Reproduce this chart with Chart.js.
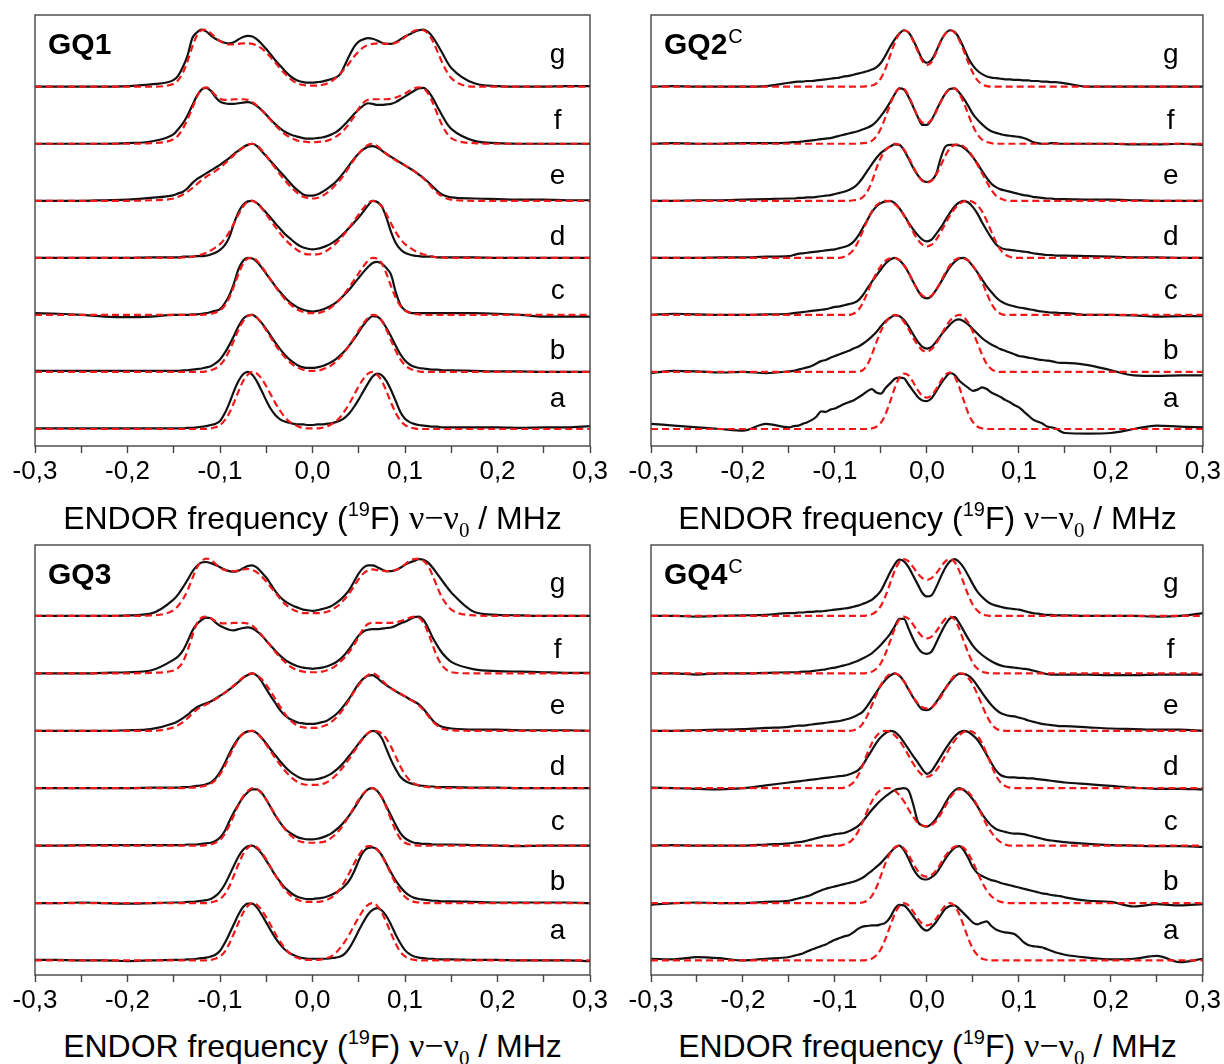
<!DOCTYPE html>
<html>
<head>
<meta charset="utf-8">
<script src="https://cdn.jsdelivr.net/npm/chart.js@4.4.1/dist/chart.umd.min.js"></script>
<style>
  body { margin: 0; background: #fff; width: 1224px; height: 1064px; position: relative; overflow: hidden;
         font-family: Arial, "Liberation Sans", sans-serif; }
  canvas { position: absolute; }
  .xtitle { position: absolute; text-align: center; font-size: 32px; line-height: 32px; color: #000; white-space: nowrap; }
  .xtitle .nu { font-family: "Liberation Serif", "Times New Roman", serif; font-size: 34px; }
  .xtitle sup { font-size: 20px; position: relative; top: -13px; vertical-align: baseline; }
  .xtitle sub { font-size: 21px; position: relative; top: 8px; vertical-align: baseline; }
</style>
</head>
<body>
<canvas id="gq1" width="612" height="492" style="left:0;top:0"></canvas>
<canvas id="gq2" width="612" height="492" style="left:612px;top:0"></canvas>
<canvas id="gq3" width="612" height="492" style="left:0;top:530px"></canvas>
<canvas id="gq4" width="612" height="492" style="left:612px;top:530px"></canvas>

<div class="xtitle" style="left:35px;top:502px;width:555px">ENDOR frequency (<sup>19</sup>F) <span class="nu">ν−ν<sub>0</sub></span> / MHz</div>
<div class="xtitle" style="left:651px;top:502px;width:553px">ENDOR frequency (<sup>19</sup>F) <span class="nu">ν−ν<sub>0</sub></span> / MHz</div>
<div class="xtitle" style="left:35px;top:1030px;width:555px">ENDOR frequency (<sup>19</sup>F) <span class="nu">ν−ν<sub>0</sub></span> / MHz</div>
<div class="xtitle" style="left:651px;top:1030px;width:553px">ENDOR frequency (<sup>19</sup>F) <span class="nu">ν−ν<sub>0</sub></span> / MHz</div>

<script>
// frequency grid (MHz), shared by every spectrum
const GRID = [
  -0.3, -0.275, -0.25, -0.225, -0.2, -0.175,
  -0.15, -0.145, -0.14, -0.135, -0.13, -0.125, -0.12, -0.115, -0.11, -0.105,
  -0.1, -0.095, -0.09, -0.085, -0.08, -0.075, -0.07, -0.065, -0.06, -0.055,
  -0.05, -0.045, -0.04, -0.035, -0.03, -0.025, -0.02, -0.015, -0.01, -0.005,
  0, 0.005, 0.01, 0.015, 0.02, 0.025, 0.03, 0.035, 0.04, 0.045, 0.05,
  0.055, 0.06, 0.065, 0.07, 0.075, 0.08, 0.085, 0.09, 0.095, 0.1,
  0.105, 0.11, 0.115, 0.12, 0.125, 0.13, 0.135, 0.14, 0.145, 0.15,
  0.175, 0.2, 0.225, 0.25, 0.275, 0.3
];
const LETTERS = ["a", "b", "c", "d", "e", "f", "g"];
const TICK_VALUES = [-0.3, -0.2, -0.1, 0, 0.1, 0.2, 0.3];

// ===============================
// GQ1
// ===============================
const gq1_g_exp = [
  0, 0, 0, 0, 0.01, 0.04,
  0.12, 0.2, 0.35, 0.55, 0.85, 0.95, 1.0, 0.97, 0.9, 0.84,
  0.8, 0.77, 0.76, 0.78, 0.83, 0.87, 0.89, 0.88, 0.83, 0.75,
  0.66, 0.56, 0.46, 0.37, 0.28, 0.2, 0.14, 0.1, 0.08, 0.07,
  0.07, 0.08, 0.09, 0.11, 0.13, 0.16, 0.22, 0.38, 0.55, 0.7, 0.79,
  0.83, 0.85, 0.84, 0.81, 0.77, 0.75, 0.75, 0.78, 0.83, 0.88,
  0.92, 0.96, 0.99, 1.0, 0.96, 0.87, 0.74, 0.6, 0.45, 0.33,
  0.06, 0.01, 0, 0, 0.01, 0.01
];
const gq1_g_sim = [
  0, 0, 0, 0, 0, 0,
  0.05, 0.12, 0.25, 0.45, 0.7, 0.9, 0.99, 1.0, 0.94, 0.86,
  0.8, 0.76, 0.74, 0.74, 0.75, 0.76, 0.76, 0.75, 0.72, 0.67,
  0.6, 0.51, 0.42, 0.32, 0.23, 0.15, 0.09, 0.05, 0.03, 0.02,
  0.02, 0.02, 0.03, 0.05, 0.09, 0.15, 0.23, 0.32, 0.42, 0.53, 0.62,
  0.69, 0.73, 0.75, 0.76, 0.76, 0.75, 0.75, 0.77, 0.81, 0.87,
  0.93, 0.98, 1.0, 0.99, 0.93, 0.8, 0.62, 0.43, 0.27, 0.15,
  0, 0, 0, 0, 0, 0
];
const gq1_f_exp = [
  0, 0, 0, 0, 0.01, 0.04,
  0.17, 0.26, 0.36, 0.5, 0.67, 0.84, 0.95, 0.98, 0.93, 0.82,
  0.74, 0.71, 0.7, 0.7, 0.71, 0.72, 0.73, 0.71, 0.66, 0.59,
  0.51, 0.42, 0.34, 0.27, 0.21, 0.17, 0.14, 0.12, 0.1, 0.09,
  0.09, 0.1, 0.11, 0.13, 0.16, 0.2, 0.26, 0.34, 0.43, 0.52, 0.6,
  0.67, 0.71, 0.7, 0.68, 0.68, 0.69, 0.7, 0.73, 0.78, 0.83,
  0.88, 0.93, 0.97, 0.98, 0.92, 0.8, 0.65, 0.5, 0.36, 0.26,
  0.05, 0.01, 0, 0, 0, 0
];
const gq1_f_sim = [
  0, 0, 0, 0, 0, 0.01,
  0.08, 0.15, 0.27, 0.43, 0.62, 0.82, 0.95, 0.99, 0.94, 0.85,
  0.79, 0.77, 0.77, 0.78, 0.78, 0.78, 0.77, 0.73, 0.67, 0.59,
  0.5, 0.41, 0.32, 0.24, 0.17, 0.12, 0.08, 0.05, 0.04, 0.03,
  0.03, 0.03, 0.04, 0.05, 0.08, 0.12, 0.18, 0.26, 0.36, 0.48, 0.62,
  0.72, 0.77, 0.78, 0.78, 0.78, 0.78, 0.79, 0.81, 0.84, 0.88,
  0.93, 0.97, 0.99, 0.97, 0.88, 0.72, 0.52, 0.33, 0.19, 0.1,
  0.01, 0, 0, 0, 0, 0
];
const gq1_e_exp = [
  0, 0, 0, 0.01, 0.02, 0.05,
  0.1, 0.13, 0.16, 0.22, 0.31, 0.38, 0.43, 0.48, 0.53, 0.58,
  0.63, 0.69, 0.75, 0.82, 0.88, 0.94, 0.98, 1.0, 0.96, 0.87,
  0.78, 0.69, 0.6, 0.51, 0.42, 0.33, 0.24, 0.17, 0.11, 0.09,
  0.09, 0.11, 0.15, 0.2, 0.26, 0.33, 0.42, 0.52, 0.63, 0.74, 0.83,
  0.9, 0.95, 0.96, 0.93, 0.88, 0.82, 0.77, 0.72, 0.67, 0.62,
  0.57, 0.52, 0.46, 0.4, 0.33, 0.25, 0.17, 0.11, 0.08, 0.06,
  0.04, 0.03, 0.02, 0.02, 0.01, 0.01
];
const gq1_e_sim = [
  0, 0, 0, 0, 0, 0.01,
  0.04, 0.07, 0.11, 0.16, 0.22, 0.29, 0.36, 0.42, 0.47, 0.52,
  0.58, 0.65, 0.72, 0.8, 0.87, 0.93, 0.98, 1.0, 0.97, 0.89,
  0.79, 0.68, 0.57, 0.46, 0.36, 0.27, 0.19, 0.12, 0.07, 0.05,
  0.04, 0.05, 0.08, 0.13, 0.2, 0.28, 0.37, 0.48, 0.6, 0.72, 0.83,
  0.92, 0.98, 1.0, 0.96, 0.89, 0.82, 0.76, 0.71, 0.66, 0.62,
  0.57, 0.52, 0.46, 0.39, 0.31, 0.22, 0.14, 0.08, 0.04, 0.02,
  0, 0, 0, 0, 0, 0
];
const gq1_d_exp = [
  0, 0, 0, 0, 0, 0.01,
  0.01, 0.01, 0.02, 0.02, 0.02, 0.03, 0.03, 0.04, 0.06, 0.09,
  0.14, 0.22, 0.36, 0.6, 0.8, 0.93, 0.99, 1.0, 0.96, 0.88,
  0.79, 0.7, 0.6, 0.51, 0.42, 0.35, 0.28, 0.22, 0.18, 0.16,
  0.15, 0.16, 0.18, 0.21, 0.25, 0.3, 0.37, 0.45, 0.53, 0.62, 0.71,
  0.81, 0.92, 1.0, 0.98, 0.9, 0.7, 0.45, 0.26, 0.15, 0.09,
  0.06, 0.04, 0.03, 0.02, 0.02, 0.02, 0.01, 0.01, 0.01, 0.01,
  0.01, 0, 0, 0, 0, 0
];
const gq1_d_sim = [
  0, 0, 0, 0, 0, 0,
  0, 0, 0.01, 0.01, 0.02, 0.04, 0.06, 0.09, 0.13, 0.18,
  0.24, 0.33, 0.45, 0.6, 0.76, 0.9, 0.98, 1.0, 0.96, 0.87,
  0.76, 0.65, 0.54, 0.43, 0.33, 0.25, 0.18, 0.12, 0.08, 0.06,
  0.06, 0.06, 0.08, 0.12, 0.18, 0.25, 0.33, 0.43, 0.54, 0.65, 0.76,
  0.87, 0.96, 1.0, 0.98, 0.9, 0.76, 0.6, 0.45, 0.33, 0.24,
  0.18, 0.13, 0.09, 0.06, 0.04, 0.02, 0.01, 0.01, 0, 0,
  0, 0, 0, 0, 0, 0
];
const gq1_c_exp = [
  0.03, 0.02, 0, -0.03, -0.04, -0.03,
  0, 0, 0, 0, 0.01, 0.01, 0.02, 0.03, 0.05, 0.07,
  0.1, 0.2, 0.34, 0.55, 0.8, 0.95, 1.0, 0.99, 0.93, 0.83,
  0.72, 0.61, 0.5, 0.4, 0.31, 0.23, 0.17, 0.12, 0.09, 0.07,
  0.06, 0.07, 0.09, 0.12, 0.16, 0.21, 0.28, 0.36, 0.45, 0.55, 0.65,
  0.75, 0.84, 0.91, 0.93, 0.9, 0.82, 0.7, 0.4, 0.18, 0.08,
  0.04, 0.03, 0.03, 0.03, 0.03, 0.03, 0.03, 0.03, 0.03, 0.03,
  0.03, 0.02, 0, -0.03, -0.03, -0.03
];
const gq1_c_sim = [
  0, 0, 0, 0, 0, 0,
  0, 0, 0, 0, 0, 0, 0, 0.01, 0.02, 0.04,
  0.08, 0.16, 0.3, 0.5, 0.72, 0.9, 0.99, 1.0, 0.95, 0.85,
  0.73, 0.61, 0.49, 0.38, 0.28, 0.2, 0.13, 0.08, 0.05, 0.03,
  0.03, 0.03, 0.05, 0.08, 0.13, 0.2, 0.28, 0.38, 0.49, 0.61, 0.73,
  0.85, 0.95, 1.0, 0.99, 0.9, 0.72, 0.5, 0.3, 0.16, 0.08,
  0.04, 0.02, 0.01, 0, 0, 0, 0, 0, 0, 0,
  0, 0, 0, 0, 0, 0
];
const gq1_b_exp = [
  0.02, 0.02, 0.02, 0.02, 0.02, 0.02,
  0.02, 0.02, 0.03, 0.03, 0.04, 0.05, 0.06, 0.08, 0.1, 0.15,
  0.22, 0.33, 0.47, 0.63, 0.8, 0.93, 0.99, 1.0, 0.95, 0.86,
  0.75, 0.63, 0.51, 0.4, 0.3, 0.22, 0.16, 0.11, 0.08, 0.07,
  0.07, 0.08, 0.1, 0.13, 0.17, 0.22, 0.29, 0.37, 0.47, 0.58, 0.7,
  0.82, 0.92, 0.98, 0.97, 0.9, 0.77, 0.62, 0.46, 0.31, 0.2,
  0.13, 0.09, 0.07, 0.06, 0.05, 0.04, 0.04, 0.03, 0.03, 0.03,
  0.02, 0.01, 0.01, 0, 0, 0
];
const gq1_b_sim = [
  0, 0, 0, 0, 0, 0,
  0, 0, 0, 0, 0, 0, 0, 0.01, 0.03, 0.06,
  0.12, 0.22, 0.37, 0.55, 0.74, 0.89, 0.98, 1.0, 0.95, 0.85,
  0.73, 0.6, 0.47, 0.36, 0.26, 0.18, 0.11, 0.07, 0.04, 0.02,
  0.02, 0.02, 0.04, 0.07, 0.11, 0.18, 0.26, 0.36, 0.47, 0.6, 0.73,
  0.85, 0.95, 1.0, 0.98, 0.89, 0.74, 0.55, 0.37, 0.22, 0.12,
  0.06, 0.03, 0.01, 0, 0, 0, 0, 0, 0, 0,
  0, 0, 0, 0, 0, 0
];
const gq1_a_exp = [
  0.01, 0.01, 0.01, 0.01, 0.01, 0.01,
  0.01, 0.01, 0.01, 0.02, 0.02, 0.03, 0.04, 0.05, 0.07, 0.09,
  0.14, 0.27, 0.45, 0.66, 0.84, 0.96, 1.0, 0.95, 0.83, 0.67,
  0.5, 0.35, 0.24, 0.17, 0.13, 0.11, 0.09, 0.08, 0.08, 0.07,
  0.07, 0.08, 0.08, 0.09, 0.1, 0.12, 0.15, 0.2, 0.28, 0.39, 0.52,
  0.66, 0.8, 0.92, 0.97, 0.94, 0.84, 0.68, 0.49, 0.3, 0.18,
  0.12, 0.09, 0.07, 0.06, 0.05, 0.04, 0.04, 0.03, 0.03, 0.03,
  0.03, 0.03, 0.02, 0.03, 0.03, 0.05
];
const gq1_a_sim = [
  0, 0, 0, 0, 0, 0,
  0, 0, 0, 0, 0, 0, 0, 0, 0.01, 0.03,
  0.07, 0.15, 0.28, 0.46, 0.66, 0.84, 0.95, 1.0, 0.97, 0.88,
  0.75, 0.6, 0.45, 0.32, 0.21, 0.13, 0.08, 0.04, 0.02, 0.01,
  0.01, 0.01, 0.02, 0.04, 0.08, 0.13, 0.21, 0.32, 0.45, 0.6, 0.75,
  0.88, 0.97, 1.0, 0.95, 0.84, 0.66, 0.46, 0.28, 0.15, 0.07,
  0.03, 0.01, 0, 0, 0, 0, 0, 0, 0, 0,
  0, 0, 0, 0, 0, 0
];

// ===============================
// GQ2
// ===============================
const gq2_g_exp = [
  0, 0.01, 0, 0, 0, 0.01,
  0.07, 0.08, 0.09, 0.09, 0.1, 0.1, 0.11, 0.12, 0.13, 0.14,
  0.15, 0.16, 0.18, 0.19, 0.21, 0.23, 0.25, 0.27, 0.3, 0.34,
  0.42, 0.55, 0.7, 0.83, 0.93, 0.99, 0.95, 0.82, 0.65, 0.48,
  0.42, 0.47, 0.62, 0.8, 0.93, 0.99, 0.96, 0.85, 0.68, 0.5, 0.37,
  0.28, 0.22, 0.18, 0.16, 0.15, 0.14, 0.13, 0.13, 0.12, 0.12,
  0.11, 0.11, 0.1, 0.1, 0.09, 0.09, 0.08, 0.08, 0.07, 0.06,
  0, 0, 0, 0, 0, 0
];
const gq2_g_sim = [
  0, 0, 0, 0, 0, 0,
  0, 0, 0, 0, 0, 0, 0, 0, 0, 0,
  0, 0, 0, 0, 0, 0, 0, 0.01, 0.02, 0.06,
  0.15, 0.32, 0.55, 0.77, 0.93, 0.99, 0.95, 0.8, 0.62, 0.45,
  0.38, 0.43, 0.6, 0.79, 0.93, 0.99, 0.95, 0.82, 0.63, 0.42, 0.24,
  0.11, 0.04, 0.01, 0, 0, 0, 0, 0, 0, 0,
  0, 0, 0, 0, 0, 0, 0, 0, 0, 0,
  0, 0, 0, 0, 0, 0
];
const gq2_f_exp = [
  0, 0.01, 0, 0, 0.01, 0.01,
  0.02, 0.03, 0.03, 0.04, 0.05, 0.06, 0.07, 0.08, 0.09, 0.1,
  0.12, 0.14, 0.16, 0.18, 0.2, 0.22, 0.25, 0.28, 0.32, 0.39,
  0.49, 0.6, 0.73, 0.87, 0.97, 0.95, 0.82, 0.65, 0.47, 0.33,
  0.33, 0.42, 0.58, 0.74, 0.88, 0.96, 0.97, 0.9, 0.79, 0.66, 0.52,
  0.42, 0.34, 0.27, 0.22, 0.19, 0.17, 0.15, 0.14, 0.13, 0.12,
  0.1, 0.07, 0.03, 0.01, 0, 0, 0.01, 0.01, 0, 0,
  0, 0, -0.01, -0.01, 0, -0.02
];
const gq2_f_sim = [
  0, 0, 0, 0, 0, 0,
  0, 0, 0, 0, 0, 0, 0, 0, 0, 0,
  0, 0, 0, 0, 0, 0, 0.01, 0.02, 0.05, 0.13,
  0.27, 0.47, 0.69, 0.87, 0.97, 0.96, 0.84, 0.66, 0.48, 0.37,
  0.36, 0.42, 0.56, 0.73, 0.88, 0.96, 0.97, 0.88, 0.72, 0.51, 0.31,
  0.16, 0.07, 0.03, 0.01, 0, 0, 0, 0, 0, 0,
  0, 0, 0, 0, 0, 0, 0, 0, 0, 0,
  0, 0, 0, 0, 0, 0
];
const gq2_e_exp = [
  0, 0, 0.01, 0.01, 0.02, 0.03,
  0.04, 0.04, 0.05, 0.05, 0.06, 0.06, 0.07, 0.08, 0.09, 0.1,
  0.12, 0.14, 0.16, 0.19, 0.23, 0.3, 0.4, 0.52, 0.64, 0.75,
  0.84, 0.9, 0.95, 0.99, 0.98, 0.89, 0.74, 0.58, 0.45, 0.36,
  0.33, 0.36, 0.47, 0.75, 0.95, 0.98, 0.98, 0.97, 0.93, 0.86, 0.76,
  0.65, 0.52, 0.4, 0.3, 0.24, 0.2, 0.18, 0.16, 0.14, 0.12,
  0.1, 0.09, 0.07, 0.06, 0.05, 0.04, 0.04, 0.03, 0.03, 0.03,
  0.02, 0.02, 0.01, 0, 0, 0
];
const gq2_e_sim = [
  0, 0, 0, 0, 0, 0,
  0, 0, 0, 0, 0, 0, 0, 0, 0, 0,
  0, 0, 0, 0, 0.01, 0.02, 0.06, 0.16, 0.33, 0.57,
  0.76, 0.89, 0.96, 1.0, 0.98, 0.9, 0.76, 0.6, 0.45, 0.35,
  0.32, 0.35, 0.46, 0.62, 0.79, 0.92, 0.98, 0.99, 0.95, 0.88, 0.77,
  0.63, 0.48, 0.33, 0.19, 0.09, 0.04, 0.01, 0, 0, 0,
  0, 0, 0, 0, 0, 0, 0, 0, 0, 0,
  0, 0, 0, 0, 0, 0
];
const gq2_d_exp = [
  0, 0, 0, 0.01, 0.01, 0.02,
  0.03, 0.05, 0.07, 0.08, 0.09, 0.1, 0.11, 0.12, 0.13, 0.14,
  0.15, 0.17, 0.19, 0.22, 0.28, 0.38, 0.52, 0.66, 0.8, 0.9,
  0.96, 0.99, 1.0, 0.96, 0.87, 0.75, 0.62, 0.5, 0.4, 0.32,
  0.29, 0.32, 0.42, 0.53, 0.66, 0.79, 0.9, 0.97, 1.0, 0.97, 0.89,
  0.77, 0.62, 0.48, 0.35, 0.24, 0.18, 0.15, 0.14, 0.13, 0.12,
  0.11, 0.1, 0.08, 0.07, 0.06, 0.05, 0.05, 0.04, 0.04, 0.04,
  0.03, 0.02, 0.01, 0.01, 0, 0
];
const gq2_d_sim = [
  0, 0, 0, 0, 0, 0,
  0, 0, 0, 0, 0, 0, 0, 0, 0, 0,
  0, 0, 0.02, 0.06, 0.14, 0.28, 0.46, 0.65, 0.81, 0.92,
  0.98, 1.0, 0.99, 0.94, 0.86, 0.74, 0.6, 0.45, 0.32, 0.23,
  0.2, 0.23, 0.32, 0.45, 0.6, 0.74, 0.86, 0.94, 0.99, 1.0, 0.98,
  0.92, 0.81, 0.65, 0.46, 0.28, 0.14, 0.06, 0.02, 0, 0,
  0, 0, 0, 0, 0, 0, 0, 0, 0, 0,
  0, 0, 0, 0, 0, 0
];
const gq2_c_exp = [
  0, 0.02, 0.01, 0, 0, 0.01,
  0.02, 0.03, 0.04, 0.05, 0.06, 0.07, 0.08, 0.09, 0.1, 0.12,
  0.14, 0.15, 0.17, 0.19, 0.21, 0.25, 0.34, 0.46, 0.58, 0.69,
  0.8, 0.9, 0.97, 1.0, 0.96, 0.87, 0.74, 0.58, 0.43, 0.32,
  0.29, 0.33, 0.44, 0.57, 0.71, 0.84, 0.93, 0.99, 1.0, 0.95, 0.85,
  0.74, 0.62, 0.5, 0.4, 0.31, 0.24, 0.2, 0.17, 0.15, 0.13,
  0.12, 0.1, 0.09, 0.07, 0.06, 0.05, 0.04, 0.04, 0.03, 0.03,
  0, 0, -0.01, -0.03, -0.02, -0.02
];
const gq2_c_sim = [
  0, 0, 0, 0, 0, 0,
  0, 0, 0, 0, 0, 0, 0, 0, 0, 0,
  0, 0, 0, 0, 0.02, 0.08, 0.2, 0.38, 0.57, 0.73,
  0.86, 0.95, 0.99, 1.0, 0.96, 0.87, 0.74, 0.58, 0.44, 0.34,
  0.31, 0.34, 0.44, 0.58, 0.74, 0.87, 0.96, 1.0, 0.99, 0.95, 0.86,
  0.73, 0.57, 0.38, 0.2, 0.08, 0.02, 0, 0, 0, 0,
  0, 0, 0, 0, 0, 0, 0, 0, 0, 0,
  0, 0, 0, 0, 0, 0
];
const gq2_b_exp = [
  -0.02, 0.02, 0.01, -0.01, 0, -0.02,
  0.01, 0.02, 0.04, 0.06, 0.08, 0.11, 0.15, 0.19, 0.21, 0.25,
  0.28, 0.31, 0.34, 0.37, 0.41, 0.44, 0.49, 0.55, 0.62, 0.7,
  0.8, 0.89, 0.95, 0.99, 0.98, 0.91, 0.8, 0.66, 0.53, 0.44,
  0.41, 0.44, 0.53, 0.64, 0.74, 0.83, 0.9, 0.92, 0.89, 0.83, 0.75,
  0.67, 0.59, 0.53, 0.48, 0.44, 0.4, 0.37, 0.34, 0.31, 0.28,
  0.27, 0.25, 0.24, 0.22, 0.21, 0.2, 0.19, 0.17, 0.16, 0.16,
  0.12, 0.03, -0.06, -0.07, -0.06, -0.06
];
const gq2_b_sim = [
  0, 0, 0, 0, 0, 0,
  0, 0, 0, 0, 0, 0, 0, 0, 0, 0,
  0, 0, 0, 0, 0, 0.01, 0.03, 0.12, 0.3, 0.52,
  0.72, 0.87, 0.96, 1.0, 0.97, 0.88, 0.75, 0.6, 0.47, 0.38,
  0.36, 0.4, 0.5, 0.64, 0.78, 0.9, 0.97, 1.0, 0.96, 0.86, 0.7,
  0.5, 0.3, 0.14, 0.05, 0.01, 0, 0, 0, 0, 0,
  0, 0, 0, 0, 0, 0, 0, 0, 0, 0,
  0, 0, 0, 0, 0, 0
];
const gq2_a_exp = [
  0.09, 0.06, 0.03, 0, -0.03, 0.09,
  0.03, 0.05, 0.06, 0.09, 0.12, 0.16, 0.22, 0.31, 0.3, 0.34,
  0.36, 0.4, 0.44, 0.47, 0.5, 0.55, 0.6, 0.66, 0.7, 0.64,
  0.62, 0.72, 0.8, 0.88, 0.9, 0.89, 0.78, 0.67, 0.56, 0.5,
  0.49, 0.54, 0.66, 0.79, 0.9, 0.98, 0.95, 0.85, 0.78, 0.72, 0.67,
  0.69, 0.73, 0.7, 0.64, 0.6, 0.56, 0.51, 0.47, 0.42, 0.38,
  0.31, 0.24, 0.17, 0.13, 0.1, 0.05, 0.03, 0.01, -0.04, -0.07,
  -0.08, -0.07, 0, 0.06, 0.04, 0.03
];
const gq2_a_sim = [
  0, 0, 0, 0, 0, 0,
  0, 0, 0, 0, 0, 0, 0, 0, 0, 0,
  0, 0, 0, 0, 0, 0, 0, 0, 0.01, 0.04,
  0.11, 0.26, 0.48, 0.72, 0.9, 0.97, 0.94, 0.82, 0.68, 0.58,
  0.55, 0.59, 0.7, 0.84, 0.95, 0.99, 0.92, 0.74, 0.5, 0.27, 0.12,
  0.04, 0.01, 0, 0, 0, 0, 0, 0, 0, 0,
  0, 0, 0, 0, 0, 0, 0, 0, 0, 0,
  0, 0, 0, 0, 0, 0
];

// ===============================
// GQ3
// ===============================
const gq3_g_exp = [
  0, 0, 0, 0, 0.01, 0.04,
  0.29, 0.38, 0.5, 0.63, 0.77, 0.87, 0.93, 0.94, 0.92, 0.89,
  0.85, 0.81, 0.78, 0.77, 0.79, 0.83, 0.87, 0.88, 0.84, 0.76,
  0.67, 0.55, 0.43, 0.33, 0.26, 0.21, 0.17, 0.14, 0.11, 0.1,
  0.09, 0.1, 0.12, 0.14, 0.17, 0.22, 0.28, 0.36, 0.46, 0.6, 0.74,
  0.84, 0.88, 0.88, 0.85, 0.81, 0.78, 0.78, 0.8, 0.84, 0.89,
  0.93, 0.96, 0.99, 0.98, 0.93, 0.84, 0.73, 0.62, 0.51, 0.41,
  0.07, 0.02, 0.01, 0, 0, 0
];
const gq3_g_sim = [
  0, 0, 0, 0, 0, 0.01,
  0.1, 0.18, 0.29, 0.45, 0.65, 0.84, 0.95, 1.0, 0.98, 0.91,
  0.84, 0.8, 0.78, 0.78, 0.79, 0.81, 0.82, 0.8, 0.76, 0.69,
  0.6, 0.5, 0.4, 0.3, 0.21, 0.15, 0.1, 0.07, 0.05, 0.05,
  0.05, 0.05, 0.05, 0.07, 0.1, 0.15, 0.21, 0.3, 0.4, 0.52, 0.64,
  0.74, 0.79, 0.81, 0.8, 0.79, 0.78, 0.78, 0.8, 0.84, 0.9,
  0.96, 0.99, 1.0, 0.96, 0.87, 0.7, 0.5, 0.32, 0.2, 0.11,
  0.01, 0, 0, 0, 0, 0
];
const gq3_f_exp = [
  0, 0, 0, 0.01, 0.02, 0.05,
  0.24, 0.3, 0.4, 0.56, 0.74, 0.86, 0.93, 0.97, 0.96, 0.89,
  0.83, 0.79, 0.76, 0.75, 0.77, 0.79, 0.8, 0.78, 0.73, 0.66,
  0.57, 0.48, 0.39, 0.31, 0.24, 0.19, 0.15, 0.12, 0.1, 0.09,
  0.08, 0.09, 0.1, 0.12, 0.15, 0.19, 0.25, 0.33, 0.43, 0.55, 0.66,
  0.73, 0.76, 0.77, 0.77, 0.78, 0.79, 0.8, 0.83, 0.87, 0.9,
  0.94, 0.98, 0.99, 0.93, 0.79, 0.62, 0.48, 0.36, 0.27, 0.2,
  0.07, 0.04, 0.03, 0.02, 0.01, 0.01
];
const gq3_f_sim = [
  0, 0, 0, 0, 0, 0.01,
  0.05, 0.1, 0.2, 0.4, 0.65, 0.87, 0.97, 0.99, 0.96, 0.91,
  0.88, 0.87, 0.87, 0.88, 0.88, 0.88, 0.87, 0.83, 0.76, 0.67,
  0.57, 0.47, 0.37, 0.28, 0.2, 0.13, 0.08, 0.05, 0.03, 0.02,
  0.02, 0.02, 0.03, 0.05, 0.08, 0.13, 0.2, 0.28, 0.38, 0.5, 0.64,
  0.78, 0.86, 0.88, 0.88, 0.88, 0.88, 0.88, 0.89, 0.91, 0.94,
  0.97, 0.99, 0.97, 0.88, 0.71, 0.49, 0.28, 0.14, 0.06, 0.02,
  0, 0, 0, 0, 0, 0
];
const gq3_e_exp = [
  0, 0, 0, 0, 0.01, 0.03,
  0.13, 0.17, 0.22, 0.28, 0.35, 0.41, 0.45, 0.48, 0.51, 0.56,
  0.61, 0.66, 0.72, 0.78, 0.85, 0.92, 0.97, 1.0, 0.96, 0.86,
  0.73, 0.6, 0.48, 0.36, 0.27, 0.21, 0.17, 0.14, 0.13, 0.12,
  0.12, 0.13, 0.15, 0.17, 0.22, 0.28, 0.36, 0.46, 0.57, 0.7, 0.82,
  0.91, 0.96, 0.97, 0.92, 0.85, 0.79, 0.74, 0.69, 0.64, 0.6,
  0.55, 0.51, 0.46, 0.38, 0.28, 0.18, 0.11, 0.07, 0.05, 0.04,
  0.02, 0.02, 0.01, 0.01, 0.01, 0
];
const gq3_e_sim = [
  0, 0, 0, 0, 0, 0,
  0.06, 0.1, 0.15, 0.22, 0.3, 0.37, 0.42, 0.46, 0.5, 0.55,
  0.6, 0.66, 0.72, 0.79, 0.86, 0.93, 0.98, 1.0, 0.97, 0.9,
  0.8, 0.68, 0.55, 0.42, 0.3, 0.2, 0.13, 0.08, 0.06, 0.05,
  0.05, 0.05, 0.07, 0.1, 0.15, 0.22, 0.31, 0.42, 0.55, 0.68, 0.8,
  0.9, 0.97, 1.0, 0.96, 0.88, 0.8, 0.74, 0.69, 0.65, 0.6,
  0.55, 0.5, 0.44, 0.36, 0.26, 0.16, 0.09, 0.04, 0.02, 0.01,
  0, 0, 0, 0, 0, 0
];
const gq3_d_exp = [
  0, 0, 0, 0, 0, 0.01,
  0.01, 0.01, 0.02, 0.02, 0.03, 0.04, 0.05, 0.07, 0.1, 0.17,
  0.28, 0.43, 0.6, 0.75, 0.87, 0.95, 0.99, 1.0, 0.96, 0.88,
  0.78, 0.67, 0.57, 0.47, 0.38, 0.3, 0.24, 0.19, 0.16, 0.15,
  0.15, 0.16, 0.18, 0.21, 0.25, 0.31, 0.38, 0.47, 0.57, 0.67, 0.78,
  0.88, 0.96, 1.0, 0.97, 0.87, 0.68, 0.49, 0.33, 0.2, 0.13,
  0.09, 0.07, 0.05, 0.04, 0.03, 0.03, 0.02, 0.02, 0.02, 0.02,
  0.01, 0.01, 0, 0, 0, 0
];
const gq3_d_sim = [
  0, 0, 0, 0, 0, 0,
  0, 0, 0, 0.01, 0.01, 0.02, 0.03, 0.05, 0.08, 0.14,
  0.24, 0.38, 0.55, 0.72, 0.86, 0.95, 0.99, 1.0, 0.96, 0.87,
  0.76, 0.64, 0.52, 0.41, 0.31, 0.22, 0.15, 0.1, 0.07, 0.06,
  0.06, 0.06, 0.07, 0.1, 0.15, 0.22, 0.31, 0.41, 0.52, 0.64, 0.76,
  0.87, 0.96, 1.0, 0.99, 0.95, 0.86, 0.72, 0.55, 0.38, 0.24,
  0.14, 0.08, 0.05, 0.03, 0.02, 0.01, 0.01, 0, 0, 0,
  0, 0, 0, 0, 0, 0
];
const gq3_c_exp = [
  0, 0, 0.01, 0.01, 0.01, 0.01,
  0.01, 0.01, 0.01, 0.02, 0.02, 0.02, 0.03, 0.04, 0.05, 0.08,
  0.14, 0.25, 0.42, 0.58, 0.72, 0.84, 0.93, 0.98, 0.98, 0.92,
  0.8, 0.66, 0.52, 0.4, 0.3, 0.23, 0.18, 0.14, 0.12, 0.11,
  0.11, 0.12, 0.14, 0.17, 0.21, 0.27, 0.34, 0.43, 0.53, 0.65, 0.78,
  0.9, 0.98, 1.0, 0.95, 0.84, 0.68, 0.52, 0.36, 0.22, 0.13,
  0.08, 0.05, 0.04, 0.03, 0.03, 0.02, 0.02, 0.02, 0.02, 0.02,
  0.01, 0, -0.01, 0, 0, 0
];
const gq3_c_sim = [
  0, 0, 0, 0, 0, 0,
  0, 0, 0, 0, 0, 0, 0, 0.01, 0.02, 0.05,
  0.1, 0.2, 0.35, 0.53, 0.71, 0.86, 0.95, 1.0, 0.98, 0.91,
  0.8, 0.67, 0.53, 0.4, 0.29, 0.2, 0.13, 0.08, 0.06, 0.05,
  0.05, 0.05, 0.06, 0.08, 0.13, 0.2, 0.29, 0.4, 0.53, 0.67, 0.8,
  0.91, 0.98, 1.0, 0.95, 0.84, 0.66, 0.45, 0.26, 0.12, 0.05,
  0.02, 0.01, 0, 0, 0, 0, 0, 0, 0, 0,
  0, 0, 0, 0, 0, 0
];
const gq3_b_exp = [
  0, 0, 0.01, 0, -0.01, 0,
  0.01, 0.01, 0.01, 0.02, 0.02, 0.03, 0.04, 0.05, 0.07, 0.12,
  0.2, 0.32, 0.48, 0.65, 0.81, 0.93, 0.99, 1.0, 0.95, 0.86,
  0.74, 0.61, 0.48, 0.37, 0.27, 0.2, 0.14, 0.1, 0.08, 0.07,
  0.07, 0.08, 0.09, 0.11, 0.14, 0.18, 0.23, 0.3, 0.4, 0.55, 0.74,
  0.89, 0.96, 0.97, 0.93, 0.83, 0.68, 0.53, 0.39, 0.28, 0.19,
  0.13, 0.09, 0.07, 0.06, 0.05, 0.04, 0.04, 0.03, 0.03, 0.03,
  0.02, 0.01, 0.01, 0.01, 0.01, 0
];
const gq3_b_sim = [
  0, 0, 0, 0, 0, 0,
  0, 0, 0, 0, 0, 0, 0, 0, 0.01, 0.03,
  0.07, 0.15, 0.29, 0.48, 0.68, 0.85, 0.96, 1.0, 0.97, 0.88,
  0.76, 0.62, 0.48, 0.35, 0.24, 0.15, 0.09, 0.05, 0.03, 0.02,
  0.02, 0.02, 0.03, 0.05, 0.09, 0.15, 0.25, 0.38, 0.53, 0.69, 0.83,
  0.94, 0.99, 0.99, 0.93, 0.82, 0.67, 0.5, 0.34, 0.2, 0.11,
  0.05, 0.02, 0.01, 0, 0, 0, 0, 0, 0, 0,
  0, 0, 0, 0, 0, 0
];
const gq3_a_exp = [
  0.01, 0.01, 0, 0, -0.01, 0,
  0.01, 0.01, 0.01, 0.02, 0.02, 0.03, 0.04, 0.05, 0.07, 0.1,
  0.17, 0.3, 0.46, 0.63, 0.8, 0.93, 0.99, 0.99, 0.92, 0.8,
  0.66, 0.52, 0.39, 0.28, 0.19, 0.13, 0.09, 0.06, 0.04, 0.03,
  0.03, 0.03, 0.03, 0.03, 0.04, 0.05, 0.07, 0.12, 0.22, 0.36, 0.52,
  0.67, 0.8, 0.88, 0.91, 0.87, 0.77, 0.62, 0.45, 0.3, 0.18,
  0.11, 0.07, 0.05, 0.04, 0.03, 0.03, 0.02, 0.02, 0.02, 0.02,
  0.01, 0.01, 0, 0, 0, -0.01
];
const gq3_a_sim = [
  0, 0, 0, 0, 0, 0,
  0, 0, 0, 0, 0, 0, 0, 0, 0.01, 0.03,
  0.07, 0.15, 0.29, 0.47, 0.66, 0.83, 0.95, 1.0, 0.97, 0.88,
  0.75, 0.61, 0.46, 0.33, 0.22, 0.13, 0.07, 0.04, 0.02, 0.01,
  0.01, 0.01, 0.02, 0.04, 0.07, 0.13, 0.22, 0.33, 0.46, 0.61, 0.75,
  0.88, 0.97, 1.0, 0.95, 0.83, 0.66, 0.47, 0.29, 0.15, 0.07,
  0.03, 0.01, 0, 0, 0, 0, 0, 0, 0, 0,
  0, 0, 0, 0, 0, 0
];

// ===============================
// GQ4
// ===============================
const gq4_g_exp = [
  0, 0, -0.01, 0, 0.01, 0.02,
  0.05, 0.05, 0.06, 0.06, 0.07, 0.07, 0.08, 0.08, 0.09, 0.1,
  0.11, 0.12, 0.13, 0.14, 0.16, 0.18, 0.21, 0.24, 0.28, 0.35,
  0.44, 0.6, 0.76, 0.9, 0.98, 0.95, 0.85, 0.7, 0.55, 0.4,
  0.34, 0.36, 0.5, 0.68, 0.84, 0.95, 0.99, 0.94, 0.84, 0.7, 0.55,
  0.42, 0.33, 0.26, 0.21, 0.18, 0.16, 0.14, 0.13, 0.12, 0.11,
  0.09, 0.07, 0.05, 0.04, 0.03, 0.02, 0.02, 0.01, 0.01, 0.01,
  0, 0, 0, -0.01, 0, 0.05
];
const gq4_g_sim = [
  0, 0, 0, 0, 0, 0,
  0, 0, 0, 0, 0, 0, 0, 0, 0, 0,
  0, 0, 0, 0, 0, 0, 0, 0.01, 0.03, 0.08,
  0.18, 0.35, 0.57, 0.79, 0.94, 0.99, 0.95, 0.85, 0.74, 0.66,
  0.63, 0.66, 0.74, 0.85, 0.95, 0.99, 0.94, 0.79, 0.57, 0.36, 0.19,
  0.09, 0.03, 0.01, 0, 0, 0, 0, 0, 0, 0,
  0, 0, 0, 0, 0, 0, 0, 0, 0, 0,
  0, 0, 0, 0, 0, 0
];
const gq4_f_exp = [
  0, 0, -0.02, 0, 0, 0.01,
  0.02, 0.02, 0.02, 0.03, 0.03, 0.04, 0.05, 0.06, 0.07, 0.09,
  0.1, 0.12, 0.14, 0.16, 0.19, 0.22, 0.26, 0.3, 0.35, 0.42,
  0.5, 0.59, 0.69, 0.82, 0.95, 0.95, 0.78, 0.6, 0.45, 0.36,
  0.34, 0.38, 0.53, 0.7, 0.85, 0.96, 0.98, 0.88, 0.74, 0.6, 0.48,
  0.39, 0.32, 0.26, 0.21, 0.17, 0.14, 0.12, 0.11, 0.1, 0.09,
  0.08, 0.07, 0.05, 0.03, 0.01, -0.01, -0.02, -0.02, -0.02, -0.02,
  -0.02, -0.03, -0.03, -0.02, -0.02, -0.02
];
const gq4_f_sim = [
  0, 0, 0, 0, 0, 0,
  0, 0, 0, 0, 0, 0, 0, 0, 0, 0,
  0, 0, 0, 0, 0, 0, 0, 0.01, 0.03, 0.08,
  0.18, 0.35, 0.56, 0.78, 0.94, 0.99, 0.95, 0.85, 0.73, 0.64,
  0.61, 0.64, 0.73, 0.85, 0.95, 0.99, 0.94, 0.78, 0.56, 0.35, 0.18,
  0.08, 0.03, 0.01, 0, 0, 0, 0, 0, 0, 0,
  0, 0, 0, 0, 0, 0, 0, 0, 0, 0,
  0, 0, 0, 0, 0, 0
];
const gq4_e_exp = [
  0, 0, 0.01, 0.02, 0.03, 0.05,
  0.07, 0.08, 0.09, 0.09, 0.1, 0.11, 0.12, 0.13, 0.14, 0.15,
  0.16, 0.17, 0.19, 0.21, 0.24, 0.28, 0.33, 0.43, 0.55, 0.67,
  0.79, 0.89, 0.96, 1.0, 0.96, 0.86, 0.72, 0.58, 0.46, 0.37,
  0.36, 0.4, 0.5, 0.62, 0.74, 0.85, 0.94, 0.99, 0.99, 0.96, 0.89,
  0.78, 0.66, 0.55, 0.45, 0.37, 0.31, 0.28, 0.26, 0.25, 0.23,
  0.21, 0.18, 0.16, 0.14, 0.12, 0.11, 0.1, 0.09, 0.08, 0.08,
  0.06, 0.04, 0.03, 0.02, 0.02, 0
];
const gq4_e_sim = [
  0, 0, 0, 0, 0, 0,
  0, 0, 0, 0, 0, 0, 0, 0, 0, 0,
  0, 0, 0, 0, 0.01, 0.04, 0.12, 0.26, 0.44, 0.63,
  0.8, 0.92, 0.99, 1.0, 0.96, 0.86, 0.73, 0.59, 0.48, 0.41,
  0.39, 0.41, 0.48, 0.59, 0.73, 0.86, 0.96, 1.0, 0.99, 0.92, 0.8,
  0.63, 0.44, 0.26, 0.12, 0.04, 0.01, 0, 0, 0, 0,
  0, 0, 0, 0, 0, 0, 0, 0, 0, 0,
  0, 0, 0, 0, 0, 0
];
const gq4_d_exp = [
  0.01, 0, -0.01, -0.02, 0, 0.05,
  0.1, 0.11, 0.12, 0.13, 0.14, 0.15, 0.16, 0.17, 0.18, 0.19,
  0.2, 0.21, 0.22, 0.24, 0.27, 0.31, 0.4, 0.53, 0.66, 0.79,
  0.89, 0.96, 1.0, 0.98, 0.91, 0.8, 0.68, 0.56, 0.45, 0.33,
  0.25, 0.3, 0.42, 0.55, 0.68, 0.8, 0.9, 0.97, 1.0, 0.98, 0.92,
  0.84, 0.72, 0.58, 0.44, 0.31, 0.23, 0.2, 0.19, 0.19, 0.18,
  0.18, 0.17, 0.17, 0.16, 0.15, 0.14, 0.13, 0.12, 0.11, 0.1,
  0.07, 0.04, 0.01, -0.01, -0.01, -0.02
];
const gq4_d_sim = [
  0, 0, 0, 0, 0, 0,
  0, 0, 0, 0, 0, 0, 0, 0, 0, 0,
  0, 0, 0.01, 0.04, 0.1, 0.22, 0.4, 0.6, 0.78, 0.91,
  0.98, 1.0, 0.98, 0.92, 0.83, 0.71, 0.57, 0.43, 0.31, 0.23,
  0.2, 0.23, 0.31, 0.43, 0.57, 0.71, 0.83, 0.92, 0.98, 1.0, 0.98,
  0.91, 0.78, 0.6, 0.4, 0.22, 0.1, 0.04, 0.01, 0, 0,
  0, 0, 0, 0, 0, 0, 0, 0, 0, 0,
  0, 0, 0, 0, 0, 0
];
const gq4_c_exp = [
  0, 0.01, 0, 0, 0, 0.02,
  0.04, 0.05, 0.06, 0.07, 0.09, 0.11, 0.13, 0.15, 0.17, 0.18,
  0.2, 0.21, 0.22, 0.25, 0.29, 0.34, 0.42, 0.52, 0.62, 0.71,
  0.79, 0.86, 0.92, 0.97, 0.99, 1.0, 0.96, 0.72, 0.42, 0.35,
  0.33, 0.38, 0.47, 0.6, 0.74, 0.87, 0.96, 1.0, 0.97, 0.9, 0.8,
  0.68, 0.55, 0.44, 0.35, 0.29, 0.26, 0.24, 0.22, 0.21, 0.21,
  0.2, 0.18, 0.16, 0.14, 0.12, 0.1, 0.09, 0.08, 0.07, 0.06,
  0.03, 0.01, 0, -0.01, -0.01, -0.02
];
const gq4_c_sim = [
  0, 0, 0, 0, 0, 0,
  0, 0, 0, 0, 0, 0, 0, 0, 0, 0,
  0, 0, 0.02, 0.05, 0.12, 0.24, 0.41, 0.6, 0.77, 0.9,
  0.97, 1.0, 1.0, 0.96, 0.88, 0.77, 0.63, 0.5, 0.4, 0.35,
  0.34, 0.36, 0.43, 0.55, 0.69, 0.83, 0.93, 0.98, 0.98, 0.93, 0.83,
  0.69, 0.52, 0.36, 0.23, 0.13, 0.06, 0.02, 0, 0, 0,
  0, 0, 0, 0, 0, 0, 0, 0, 0, 0,
  0, 0, 0, 0, 0, 0
];
const gq4_b_exp = [
  -0.03, 0, 0.01, 0, 0, 0.02,
  0.04, 0.06, 0.08, 0.1, 0.12, 0.15, 0.19, 0.22, 0.25, 0.27,
  0.29, 0.31, 0.33, 0.35, 0.37, 0.4, 0.44, 0.5, 0.56, 0.63,
  0.7, 0.79, 0.88, 0.96, 1.0, 0.92, 0.77, 0.6, 0.48, 0.42,
  0.41, 0.45, 0.52, 0.64, 0.77, 0.88, 0.96, 0.99, 0.92, 0.78, 0.62,
  0.52, 0.47, 0.43, 0.4, 0.38, 0.35, 0.33, 0.31, 0.29, 0.27,
  0.25, 0.23, 0.21, 0.19, 0.17, 0.16, 0.14, 0.13, 0.12, 0.1,
  0.04, 0.02, -0.06, -0.02, -0.04, -0.02
];
const gq4_b_sim = [
  0, 0, 0, 0, 0, 0,
  0, 0, 0, 0, 0, 0, 0, 0, 0, 0,
  0, 0, 0, 0, 0, 0, 0.01, 0.04, 0.12, 0.27,
  0.48, 0.7, 0.87, 0.97, 1.0, 0.95, 0.84, 0.69, 0.56, 0.48,
  0.46, 0.49, 0.57, 0.69, 0.82, 0.92, 0.98, 1.0, 0.96, 0.86, 0.71,
  0.53, 0.36, 0.22, 0.12, 0.06, 0.02, 0.01, 0, 0, 0,
  0, 0, 0, 0, 0, 0, 0, 0, 0, 0,
  0, 0, 0, 0, 0, 0
];
const gq4_a_exp = [
  0.03, 0.02, 0.06, 0.04, 0, 0.03,
  0.06, 0.08, 0.1, 0.12, 0.16, 0.19, 0.22, 0.25, 0.28, 0.32,
  0.36, 0.39, 0.42, 0.44, 0.49, 0.55, 0.59, 0.6, 0.61, 0.61,
  0.63, 0.66, 0.75, 0.9, 0.97, 0.96, 0.88, 0.77, 0.66, 0.56,
  0.52, 0.58, 0.67, 0.79, 0.9, 0.95, 0.96, 0.9, 0.82, 0.74, 0.66,
  0.63, 0.66, 0.68, 0.6, 0.54, 0.51, 0.49, 0.48, 0.46, 0.4,
  0.32, 0.27, 0.25, 0.24, 0.23, 0.2, 0.17, 0.14, 0.12, 0.1,
  0.05, 0.02, 0.03, 0.08, -0.03, 0.03
];
const gq4_a_sim = [
  0, 0, 0, 0, 0, 0,
  0, 0, 0, 0, 0, 0, 0, 0, 0, 0,
  0, 0, 0, 0, 0, 0, 0, 0.01, 0.03, 0.09,
  0.2, 0.38, 0.6, 0.81, 0.95, 1.0, 0.96, 0.85, 0.73, 0.64,
  0.61, 0.64, 0.73, 0.85, 0.96, 1.0, 0.95, 0.81, 0.6, 0.38, 0.2,
  0.09, 0.03, 0.01, 0, 0, 0, 0, 0, 0, 0,
  0, 0, 0, 0, 0, 0, 0, 0, 0, 0,
  0, 0, 0, 0, 0, 0
];

// rows a..g for each panel
const gq1Exp = [gq1_a_exp, gq1_b_exp, gq1_c_exp, gq1_d_exp, gq1_e_exp, gq1_f_exp, gq1_g_exp];
const gq1Sim = [gq1_a_sim, gq1_b_sim, gq1_c_sim, gq1_d_sim, gq1_e_sim, gq1_f_sim, gq1_g_sim];
const gq2Exp = [gq2_a_exp, gq2_b_exp, gq2_c_exp, gq2_d_exp, gq2_e_exp, gq2_f_exp, gq2_g_exp];
const gq2Sim = [gq2_a_sim, gq2_b_sim, gq2_c_sim, gq2_d_sim, gq2_e_sim, gq2_f_sim, gq2_g_sim];
const gq3Exp = [gq3_a_exp, gq3_b_exp, gq3_c_exp, gq3_d_exp, gq3_e_exp, gq3_f_exp, gq3_g_exp];
const gq3Sim = [gq3_a_sim, gq3_b_sim, gq3_c_sim, gq3_d_sim, gq3_e_sim, gq3_f_sim, gq3_g_sim];
const gq4Exp = [gq4_a_exp, gq4_b_exp, gq4_c_exp, gq4_d_exp, gq4_e_exp, gq4_f_exp, gq4_g_exp];
const gq4Sim = [gq4_a_sim, gq4_b_sim, gq4_c_sim, gq4_d_sim, gq4_e_sim, gq4_f_sim, gq4_g_sim];

// sanity check, every row must match the grid
[["gq1Exp", gq1Exp], ["gq1Sim", gq1Sim], ["gq2Exp", gq2Exp], ["gq2Sim", gq2Sim],
 ["gq3Exp", gq3Exp], ["gq3Sim", gq3Sim], ["gq4Exp", gq4Exp], ["gq4Sim", gq4Sim]].forEach(([name, rows]) => {
  rows.forEach((r, k) => {
    if (r.length !== GRID.length) throw new Error(name + " row " + LETTERS[k] + " has " + r.length + " values");
  });
});

// where the a..g letters sit above each baseline (in offset units)
const LABEL_LIFT = [0.38, 0.23, 0.28, 0.23, 0.3, 0.26, 0.42];
const FONT = "Arial, 'Liberation Sans', sans-serif";

function decor(name, sup) {
  return {
    id: "decor",
    afterDatasetsDraw(chart) {
      const { ctx, chartArea: a, scales } = chart;
      ctx.save();
      ctx.strokeStyle = "#444";
      ctx.lineWidth = 1.4;
      ctx.strokeRect(a.left, a.top, a.right - a.left, a.bottom - a.top);

      ctx.fillStyle = "#000";
      ctx.font = "28px " + FONT;
      ctx.textAlign = "center";
      ctx.textBaseline = "alphabetic";
      const lx = scales.x.getPixelForValue(0.265);
      LETTERS.forEach((l, k) => {
        ctx.fillText(l, lx, scales.y.getPixelForValue(k + LABEL_LIFT[k]));
      });

      ctx.textAlign = "left";
      ctx.font = "bold 30px " + FONT;
      ctx.fillText(name, a.left + 13, a.top + 39);
      if (sup) {
        const w = ctx.measureText(name).width;
        ctx.font = "20px " + FONT;
        ctx.fillText(sup, a.left + 14 + w, a.top + 28);
      }
      ctx.restore();
    }
  };
}

function buildPanel(id, expRows, simRows, yMin, yMax, pad, axisH, name, sup) {
  const datasets = [];
  for (let k = 0; k < 7; k++) {
    datasets.push({
      label: name + " " + LETTERS[k] + " simulation",
      data: GRID.map((x, i) => ({ x: x, y: k + simRows[k][i] })),
      borderColor: "#f01818",
      borderWidth: 2.2,
      borderDash: [7, 4],
      pointRadius: 0,
      cubicInterpolationMode: "monotone",
      fill: false,
      order: 0
    });
    datasets.push({
      label: name + " " + LETTERS[k] + " experiment",
      data: GRID.map((x, i) => ({ x: x, y: k + expRows[k][i] })),
      borderColor: "#111",
      borderWidth: 2.2,
      pointRadius: 0,
      cubicInterpolationMode: "monotone",
      fill: false,
      order: 1
    });
  }

  new Chart(document.getElementById(id), {
    type: "line",
    data: { datasets },
    options: {
      responsive: false,
      animation: false,
      devicePixelRatio: 1,
      layout: { padding: pad },
      plugins: { legend: { display: false }, tooltip: { enabled: false } },
      scales: {
        x: {
          type: "linear",
          min: -0.3,
          max: 0.3,
          afterFit: s => { s.height = axisH; },
          border: { display: false },
          grid: { drawOnChartArea: false, drawTicks: true, tickLength: 7, tickColor: "#444", tickWidth: 1.4 },
          ticks: {
            stepSize: 0.05,
            autoSkip: false,
            maxRotation: 0,
            color: "#000",
            padding: 3,
            font: { family: FONT, size: 26 },
            callback: v => {
              const r = Math.round(v * 10) / 10;
              if (!TICK_VALUES.some(t => Math.abs(t - v) < 1e-6)) return "";
              return r.toFixed(1).replace(".", ",");
            }
          }
        },
        y: { display: false, min: yMin, max: yMax }
      }
    },
    plugins: [decor(name, sup)]
  });
}

buildPanel("gq1", gq1Exp, gq1Sim, -0.298, 7.257, { left: 35, right: 22, top: 15, bottom: 0 }, 46, "GQ1", "");
buildPanel("gq2", gq2Exp, gq2Sim, -0.298, 7.257, { left: 39, right: 20, top: 15, bottom: 0 }, 46, "GQ2", "C");
buildPanel("gq3", gq3Exp, gq3Sim, -0.253, 7.236, { left: 35, right: 22, top: 15, bottom: 0 }, 47, "GQ3", "");
buildPanel("gq4", gq4Exp, gq4Sim, -0.253, 7.236, { left: 39, right: 20, top: 15, bottom: 0 }, 47, "GQ4", "C");
</script>
</body>
</html>
